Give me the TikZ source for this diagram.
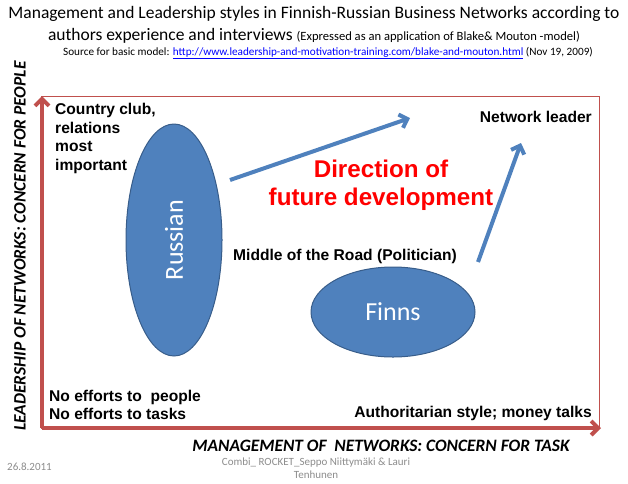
\documentclass[tikz,border=0pt]{standalone}
\usepackage{fontspec}
\setmainfont{Carlito}
\newfontfamily\arialfont{Liberation Sans}
\usetikzlibrary{shapes.geometric,arrows.meta}

\definecolor{axisred}{HTML}{C0504D}
\definecolor{ellblue}{HTML}{4F81BD}
\definecolor{ellline}{HTML}{385D8A}
\definecolor{footgray}{HTML}{8C8C8C}

\tikzset{
  axisarrow/.style={axisred,line width=4pt,-{Straight Barb[length=7pt,width=14pt,line width=4pt]}},
  devarrow/.style={ellblue,line width=4pt,-{Straight Barb[length=7pt,width=14pt,line width=4pt]}},
  group/.style={ellipse,draw=ellline,line width=1pt,fill=ellblue,text=white,
    inner sep=0pt,font=\fontsize{26}{30}\selectfont},
  corner/.style={inner sep=0pt,font=\arialfont\bfseries\fontsize{15.6}{18.5}\selectfont},
  axislabel/.style={inner sep=0pt,font=\bfseries\itshape\fontsize{17.4}{20}\selectfont},
  foot/.style={inner sep=0pt,text=footgray,font=\fontsize{11}{13}\selectfont}
}

\begin{document}
\begin{tikzpicture}[x=1pt,y=-1pt]
  \useasboundingbox (0,0) rectangle (628,483);
  % title
  \node[inner sep=0pt,font=\fontsize{17.5}{20}\selectfont] (title1) at (314,14)
    {Management and Leadership styles in Finnish-Russian Business Networks according to};
  \node[inner sep=0pt,font=\fontsize{17.5}{20}\selectfont] (title2) at (314,36)
    {authors experience and interviews {\fontsize{12.6}{15}\selectfont (Expressed as an application of Blake\& Mouton -model)}};
  \node[inner sep=0pt,font=\fontsize{11.2}{13}\selectfont] (title3) at (328,53)
    {Source for basic model: \textcolor{blue}{\underline{http://www.leadership-and-motivation-training.com/blake-and-mouton.html}} (Nov 19, 2009)};
  % frame and axes
  \draw[axisred,line width=1pt] (41,96) rectangle (599,428);
  \coordinate (origin) at (42,428);
  \coordinate (ytop) at (42,96);
  \coordinate (xend) at (601,428);
  \draw[axisarrow] (origin) -- (ytop);
  \draw[axisarrow] (origin) -- (xend);
  \node[axislabel,rotate=90] (ylab) at (20,246) {LEADERSHIP OF NETWORKS: CONCERN FOR PEOPLE};
  \node[axislabel] (xlab) at (381,446) {MANAGEMENT OF \ NETWORKS: CONCERN FOR TASK};
  % groups
  \node[group,minimum width=232,minimum height=96,rotate=90] (russian) at (174,240) {Russian};
  \node[group,minimum width=164,minimum height=90] (finns) at (393,312) {Finns};
  % styles in the grid
  \node[corner,anchor=north west,align=left] (club) at (55,103) {Country club,\\relations\\most\\important};
  \node[corner,anchor=east] (leader) at (592,117) {Network leader};
  \node[corner] (middle) at (345,256) {Middle of the Road (Politician)};
  \node[corner,anchor=west,align=left] (noeff) at (49,405) {No efforts to \ people\\No efforts to tasks};
  \node[corner,anchor=east] (auth) at (592,413) {Authoritarian style; money talks};
  % direction of development
  \node[inner sep=0pt,text=red,align=center,font=\arialfont\bfseries\fontsize{24.2}{28}\selectfont] (dir) at (381,185)
    {Direction of\\future development};
  \coordinate (dev1s) at (230,180);
  \coordinate (dev1e) at (410,118);
  \coordinate (dev2s) at (478,262);
  \coordinate (dev2e) at (521,143);
  \draw[devarrow] (dev1s) -- (dev1e);
  \draw[devarrow] (dev2s) -- (dev2e);
  % footer
  \node[foot,anchor=west] (date) at (7,467) {26.8.2011};
  \node[foot,align=center] (author) at (316,468) {Combi\_ ROCKET\_Seppo Niittymäki \& Lauri\\Tenhunen};
\end{tikzpicture}
\end{document}
